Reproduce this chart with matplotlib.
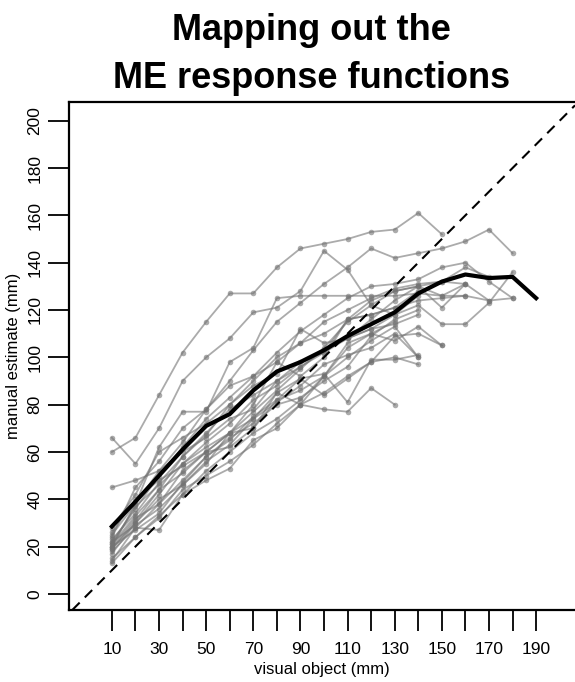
import numpy as np
import matplotlib.pyplot as plt

plt.rcParams['font.family'] = ['Liberation Sans', 'DejaVu Sans']

# visual object sizes (mm), every subject starts at 10
sizes = np.arange(10, 200, 10)

# individual subjects (manual estimate, mm)
s01 = [60, 66, 84, 102, 115, 127, 127, 138, 146, 148, 150, 153, 154, 161, 152]
s02 = [66, 55, 70, 90, 100, 108, 119, 121, 128, 145, 137, 122, 118, 126]
s03 = [45, 48, 52, 64, 78, 90, 103, 115, 123, 131, 138, 146, 142, 144, 146, 149, 154, 144]
s04 = [25, 38, 62, 77, 77, 98, 104, 125, 126, 126, 126, 126, 126, 127, 126, 126]
s05 = [22, 36, 50, 62, 74, 83, 92, 102, 111, 118, 125, 130, 131, 133, 138, 140, 132, 125]
s06 = [19, 30, 42, 55, 64, 72, 82, 88, 96, 103, 108, 112, 118, 122, 114, 114, 123, 136]
s07 = [23, 34, 47, 58, 67, 80, 90, 100, 106, 115, 120, 125, 129, 131, 132, 131, 124]
s08 = [21, 33, 44, 51, 60, 68, 77, 86, 95, 104, 115, 122, 128, 130, 126, 131]
s09 = [18, 28, 38, 48, 58, 66, 72, 80, 83, 90, 96, 109, 116, 120]
s10 = [15, 24, 33, 42, 52, 60, 68, 74, 82, 92, 100, 107, 113, 100]
s11 = [13, 24, 32, 44, 50, 56, 63, 72, 80, 85, 92, 98, 109, 110, 105]
s12 = [20, 27, 34, 47, 58, 65, 75, 82, 86, 92, 104, 110, 115]
s13 = [14, 28, 27, 42, 48, 53, 65, 70, 80, 78, 77, 87, 80]
s14 = [24, 45, 56, 70, 78, 88, 92, 98, 106, 110, 116, 118, 121, 128]
s15 = [28, 42, 60, 66, 72, 80, 88, 93, 112, 106, 108, 112, 114, 118]
s16 = [20, 32, 38, 52, 60, 62, 70, 82, 91, 84, 91, 98, 100, 97]
s17 = [17, 30, 40, 46, 55, 68, 74, 85, 91, 93, 81, 99, 99, 101]
s18 = [21, 37, 46, 55, 62, 68, 80, 98, 92, 100, 116, 124, 128, 130, 132, 138, 134]
s19 = [26, 40, 48, 54, 60, 68, 70, 85, 80, 92, 106, 110, 107, 113, 105]
s20 = [19, 31, 44, 58, 68, 78, 84, 90, 98, 102, 108, 116, 124, 130, 121, 131]
s21 = [22, 29, 36, 46, 56, 63, 74, 81, 88, 97, 101, 104, 110, 100]
s22 = [20, 38, 52, 60, 66, 74, 78, 90, 96, 102, 116, 118, 121, 124, 125, 126, 124, 125]
subjects = [s01, s02, s03, s04, s05, s06, s07, s08, s09, s10, s11,
            s12, s13, s14, s15, s16, s17, s18, s19, s20, s21, s22]

# group mean
mean_est = [28.5, 39, 50, 61, 71, 76, 86, 94, 98, 103, 109, 114, 119, 127,
            132, 135, 133.5, 134, 125]

fig = plt.figure(figsize=(5.75, 6.82), dpi=100)
axes = fig.add_axes([0.12, 0.1056, 0.88, 0.7448])

for s in subjects:
    axes.plot(sizes[:len(s)], s, color='0.45', alpha=0.6, lw=1.3,
              marker='o', ms=4, mew=0)

axes.plot(sizes, mean_est, color='black', lw=3, solid_joinstyle='round')
axes.axline((0, 0), slope=1, color='black', lw=1.5, dashes=(5, 3.5))

axes.set_xlim(-8.2, 206.5)
axes.set_ylim(-6.8, 207.9)
axes.set_xticks(np.arange(10, 200, 10))
axes.set_xticklabels([str(v) if v % 20 == 10 else '' for v in range(10, 200, 10)])
axes.set_yticks(np.arange(0, 201, 20))
for lab in axes.get_yticklabels():
    lab.set_rotation(90)
    lab.set_va('center')
axes.tick_params(length=15, width=1.3, labelsize=12.5)
axes.tick_params(axis='x', pad=8)
axes.tick_params(axis='y', pad=4)
for sp in axes.spines.values():
    sp.set_linewidth(1.6)
axes.spines['right'].set_visible(False)
axes.set_xlabel('visual object (mm)', fontsize=12, labelpad=4)
axes.set_ylabel('manual estimate (mm)', fontsize=12, labelpad=5)

fig.text(0.541, 1 - 40 / 682, 'Mapping out the', ha='center', va='baseline',
         fontsize=26, fontweight='bold')
fig.text(0.541, 1 - 88 / 682, 'ME response functions', ha='center', va='baseline',
         fontsize=26, fontweight='bold')

fig.savefig('out.png', dpi=100)
